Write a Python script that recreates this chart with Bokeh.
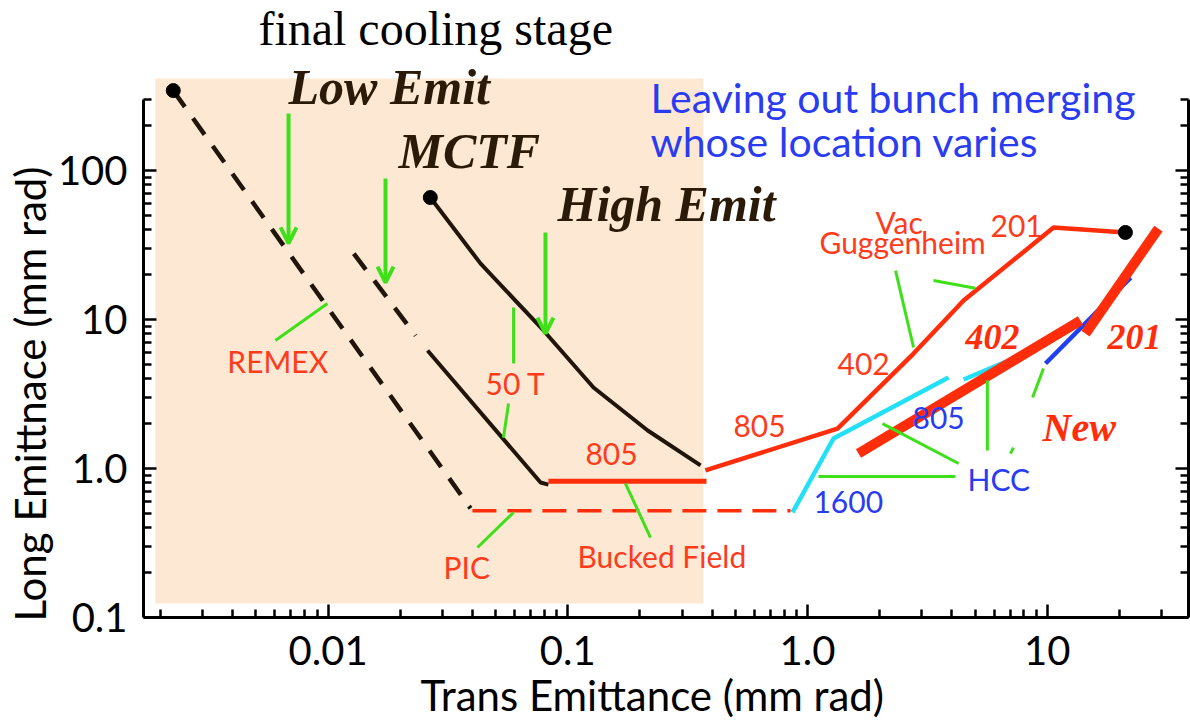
from bokeh.plotting import figure
from bokeh.models import (Range1d, FixedTicker, LogAxis, BoxAnnotation, Arrow,
                          OpenHead, ColumnDataSource, Title)
from bokeh.core.properties import value
from bokeh.embed import file_html
from bokeh.resources import INLINE

# ---------------- data (Trans emittance, Long emittance; mm rad) ----------------
low_x = [0.00226, 0.0393]
low_y = [344.0, 0.54]
mctf_dash_x = [0.0128, 0.0232]
mctf_dash_y = [27.7, 7.8]
mctf_x = [0.026, 0.077, 0.083]
mctf_y = [6.2, 0.805, 0.78]
high_x = [0.0267, 0.0432, 0.0792, 0.128, 0.2155, 0.358]
high_y = [65.9, 23.8, 8.44, 3.5, 1.8, 1.05]
pic_x = [0.040, 0.85]
pic_y = [0.52, 0.52]
bucked_x = [0.083, 0.379]
bucked_y = [0.82, 0.82]
vac_x = [0.375, 1.334, 2.77, 4.48, 10.63, 21.2]
vac_y = [0.97, 1.855, 5.91, 13.4, 41.4, 38.4]
hcc_x = [0.866, 1.284, 3.875]
hcc_y = [0.507, 1.59, 4.08]
hcc2_x = [4.48, 7.23, 13.0]
hcc2_y = [3.96, 5.47, 9.1]
hcc201_x = [9.84, 22.3]
hcc201_y = [5.07, 19.1]
new402_x = [1.632, 13.77]
new402_y = [1.26, 9.85]
new201_x = [14.45, 29.1]
new201_y = [8.05, 40.8]
start_x = [0.00226, 0.0267, 21.2]
start_y = [344.0, 65.9, 38.4]

# green pointer lines
lead_x0 = [0.00603, 0.0594, 0.0566, 0.042, 0.174, 2.33, 3.355, 2.055, 5.63, 1.111, 9.65, 7.23]
lead_y0 = [7.23, 12.04, 2.73, 0.295, 0.793, 21.3, 18.27, 2.0, 3.9, 0.884, 4.69, 1.38]
lead_x1 = [0.00994, 0.0594, 0.0539, 0.0594, 0.2213, 2.77, 5.02, 4.27, 5.63, 4.14, 8.69, 7.03]
lead_y1 = [12.8, 5.07, 1.61, 0.507, 0.344, 6.49, 16.2, 1.08, 1.32, 0.884, 3.0, 1.26]
# green arrows (Low Emit, MCTF, High Emit)
arrow_x = [0.00684, 0.01736, 0.0807]
arrow_y0 = [241.5, 88.4, 38.4]
arrow_y1 = [32.4, 17.7, 8.05]

# axis ticks
x_ticks = [0.01, 0.1, 1, 10]
x_tick_labels = ["0.01", "0.1", "1.0", "10"]
y_ticks = [0.1, 1, 10, 100]
y_tick_labels = ["0.1", "1.0", "10", "100"]

# texts
title_txt = ["final cooling stage"]
title_x = [0.00512]; title_y = [690.0]
stage_txt = ["Low Emit", "MCTF", "High Emit"]
stage_x = [0.00684, 0.01966, 0.0906]; stage_y = [286.0, 106.4, 46.2]
note_txt = ["Leaving out bunch merging", "whose location varies"]
note_x = [0.2213, 0.2213]; note_y = [256.6, 130.0]
red_txt = ["REMEX", "50 T", "805", "PIC", "Bucked Field", "805", "402", "Vac", "Guggenheim", "201"]
red_x = [0.0038, 0.04536, 0.1185, 0.0303, 0.1098, 0.491, 1.334, 1.922, 1.122, 5.80]
red_y = [4.48, 3.236, 1.064, 0.1856, 0.22, 1.665, 4.34, 38.4, 28.2, 36.6]
blue_txt = ["1600", "805", "HCC"]
blue_x = [1.059, 2.742, 4.65]; blue_y = [0.507, 1.856, 0.734]
new_txt = ["402", "201"]
new_x = [4.56, 17.85]; new_y = [6.38, 6.38]
new_lbl = ["New"]
new_lbl_x = [9.56]; new_lbl_y = [1.615]
x_title = "Trans Emittance  (mm rad)"
y_title = "Long Emittnace (mm rad)"

# ---------------- styling ----------------
BLACK_LINE = "#1f150a"
RED = "#ff2d0a"
RED_TXT = "#ff3b1c"
CYAN = "#22e0f5"
BLUE = "#1f3ff0"
BLUE_TXT = "#2a3cf2"
GREEN = "#3ee01a"
PEACH = "#fde9d3"
BROWN_TXT = "#2a1a07"
SANS = "Lato"
SERIF = "Liberation Serif"

p = figure(width=1190, height=726, x_axis_type="log", y_axis_type="log",
           x_range=Range1d(0.001698, 38.86), y_range=Range1d(0.1, 1384),
           output_backend="svg", toolbar_location=None,
           min_border_left=143, min_border_right=2, min_border_top=0, min_border_bottom=109)
p.outline_line_color = None
p.grid.visible = False
p.background_fill_color = "white"
p.border_fill_color = "white"

minor_x = [k * 0.001 for k in range(2, 10)] + [k * 0.01 for k in range(2, 10)] + \
          [k * 0.1 for k in range(2, 10)] + [float(k) for k in range(2, 10)] + [20.0, 30.0]
minor_y = [k * 0.1 for k in range(2, 10)] + [float(k) for k in range(2, 10)] + \
          [k * 10.0 for k in range(2, 10)] + [200.0, 300.0]


def style_axis(ax):
    ax.axis_line_width = 3
    ax.axis_line_color = "black"
    ax.major_tick_in = 13
    ax.major_tick_out = 0
    ax.minor_tick_in = 8
    ax.minor_tick_out = 0
    ax.major_tick_line_width = 2.5
    ax.minor_tick_line_width = 2.5
    ax.major_tick_line_color = "black"
    ax.minor_tick_line_color = "black"
    ax.major_label_text_font = SANS
    ax.major_label_text_font_size = "40px"
    ax.major_label_text_color = "black"


xa = p.xaxis[0]
xa.ticker = FixedTicker(ticks=x_ticks, minor_ticks=minor_x)
xa.major_label_overrides = dict(zip(x_ticks, x_tick_labels))
style_axis(xa)
xa.major_label_standoff = 18

ya = p.yaxis[0]
ya.ticker = FixedTicker(ticks=y_ticks, minor_ticks=minor_y)
ya.major_label_overrides = dict(zip(y_ticks, y_tick_labels))
ya.bounds = (0.1, 300)
style_axis(ya)
ya.major_label_standoff = 16

ra = LogAxis(ticker=FixedTicker(ticks=y_ticks, minor_ticks=minor_y), bounds=(0.1, 300))
style_axis(ra)
ra.major_label_text_font_size = "4px"
ra.major_label_text_color = None
ra.major_label_standoff = 0
p.add_layout(ra, "right")

# axis titles (as side titles so they can be placed along the axis)
p.add_layout(Title(text=x_title, text_font=SANS, text_font_size="42px",
                   text_font_style="normal", text_color="black",
                   align="left", offset=277, standoff=0), "below")
p.add_layout(Title(text=y_title, text_font=SANS, text_font_size="42px",
                   text_font_style="normal", text_color="black",
                   align="left", offset=-4, standoff=0), "left")

# shaded final-cooling region
p.add_layout(BoxAnnotation(left=0.0019, right=0.368, bottom=0.124, top=414,
                           fill_color=PEACH, fill_alpha=1.0, line_color=None,
                           level="underlay"))

# black cooling-stage curves
p.line(low_x, low_y, line_color=BLACK_LINE, line_width=4.5, line_dash="20 14")
p.line(mctf_dash_x, mctf_dash_y, line_color=BLACK_LINE, line_width=4.5, line_dash="20 14")
p.line(mctf_x, mctf_y, line_color=BLACK_LINE, line_width=4)
p.line(high_x, high_y, line_color=BLACK_LINE, line_width=4)

# red and blue lines
p.line(pic_x, pic_y, line_color=RED, line_width=3.5, line_dash="24 11")
p.line(bucked_x, bucked_y, line_color=RED, line_width=5)
p.line(vac_x, vac_y, line_color=RED, line_width=4.5)
p.line(hcc_x, hcc_y, line_color=CYAN, line_width=4.5)
p.line(hcc2_x, hcc2_y, line_color=CYAN, line_width=4.5)
p.line(hcc201_x, hcc201_y, line_color=BLUE, line_width=4.5)
p.line(new402_x, new402_y, line_color=RED, line_width=10)
p.line(new201_x, new201_y, line_color=RED, line_width=10)
p.scatter(start_x, start_y, size=14, color="black")

# green pointers and arrows
p.segment(x0=lead_x0, y0=lead_y0, x1=lead_x1, y1=lead_y1, line_color=GREEN, line_width=3)
arrow_src = ColumnDataSource(dict(x=arrow_x, y0=arrow_y0, y1=arrow_y1))
p.add_layout(Arrow(end=OpenHead(size=16, line_color=GREEN, line_width=4),
                   x_start="x", y_start="y0", x_end="x", y_end="y1", source=arrow_src,
                   line_color=GREEN, line_width=4))


# texts
def put(xs, ys, txts, font, size, color, style="normal", dy=0):
    src = ColumnDataSource(dict(x=xs, y=ys, t=txts))
    p.text(x="x", y="y", text="t", source=src, text_font=value(font),
           text_font_size=value(size), text_color=color, text_font_style=style,
           text_align="left", text_baseline="alphabetic", y_offset=dy)


put(title_x, title_y, title_txt, SERIF, "48px", "black", dy=-17)
put(stage_x, stage_y, stage_txt, SERIF, "50px", BROWN_TXT, "bold italic", dy=-16)
put(note_x, note_y, note_txt, SANS, "41px", BLUE_TXT, dy=-12)
put(red_x, red_y, red_txt, SANS, "30px", RED_TXT, dy=-10)
put(blue_x, blue_y, blue_txt, SANS, "30px", BLUE_TXT, dy=-10)
put(new_x, new_y, new_txt, SERIF, "36px", RED, "bold italic", dy=-12)
put(new_lbl_x, new_lbl_y, new_lbl, SERIF, "40px", RED, "bold italic", dy=-10)

open("out.html", "w").write(file_html(p, INLINE))
